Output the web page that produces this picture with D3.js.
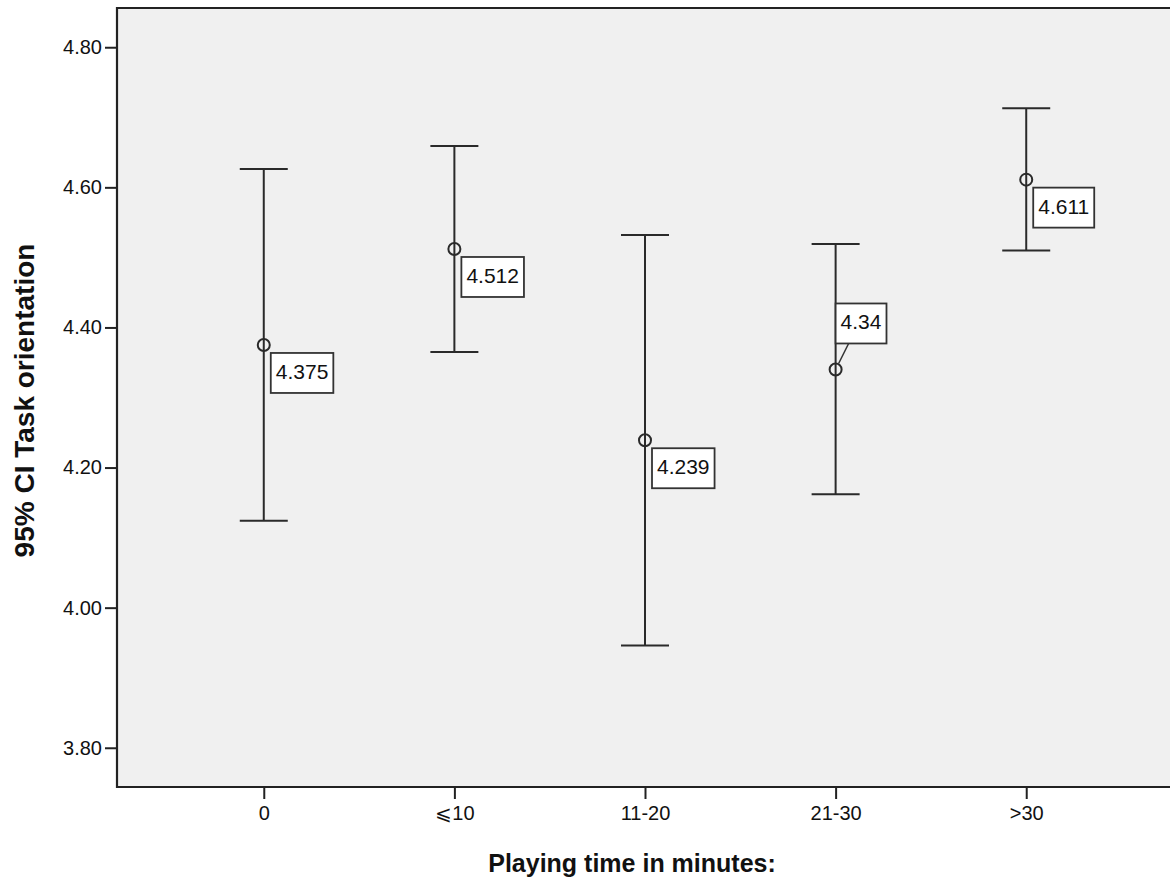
<!DOCTYPE html>
<html>
<head>
<meta charset="utf-8">
<script src="https://cdn.jsdelivr.net/npm/d3@7"></script>
<style>
  body { margin: 0; background: #fff; }
  svg { display: block; font-family: "Liberation Sans", Arial, sans-serif; }
</style>
</head>
<body>
<div id="container"></div>
<script>
const categories = ["0", "\u2A7D10", "11-20", "21-30", ">30"]
const means = [4.375, 4.512, 4.239, 4.34, 4.611]
const lower = [4.124, 4.365, 3.946, 4.162, 4.510]
const upper = [4.626, 4.659, 4.532, 4.519, 4.713]
const meanLabels = ["4.375", "4.512", "4.239", "4.34", "4.611"]
const yTicks = [3.8, 4.0, 4.2, 4.4, 4.6, 4.8]

const width = 1170
const height = 881
const plot = { left: 117, top: 8, right: 1173, bottom: 787 }

const svg = d3.select("#container").append("svg")
    .attr("width", width)
    .attr("height", height)

const x = d3.scalePoint()
    .domain(categories)
    .range([plot.left, plot.right])
    .padding(0.77)

const y = d3.scaleLinear()
    .domain([3.744, 4.856])
    .range([plot.bottom, plot.top])

// plot background
svg.append("rect")
    .attr("x", plot.left)
    .attr("y", plot.top)
    .attr("width", plot.right - plot.left)
    .attr("height", plot.bottom - plot.top)
    .attr("fill", "#f0f0f0")

const yAxis = svg.append("g")
    .attr("transform", `translate(${plot.left},0)`)
    .call(d3.axisLeft(y).tickValues(yTicks).tickFormat(d3.format(".2f")).tickSize(12).tickPadding(3))
const xAxis = svg.append("g")
    .attr("transform", `translate(0,${plot.bottom})`)
    .call(d3.axisBottom(x).tickSize(12).tickPadding(7))

for (const ax of [yAxis, xAxis]) {
    ax.select(".domain").remove()
    ax.selectAll(".tick line").attr("stroke", "#222").attr("stroke-width", 2)
    ax.selectAll(".tick text")
        .attr("fill", "#111")
        .style("font-size", "20px")
        .style("font-family", "'Liberation Sans', Arial, sans-serif")
}

// frame
svg.append("path")
    .attr("d", `M${plot.right},${plot.top}H${plot.left}V${plot.bottom}H${plot.right}`)
    .attr("fill", "none")
    .attr("stroke", "#222")
    .attr("stroke-width", 2.2)

const rows = categories.map((c, i) => ({ c, mean: means[i], lo: lower[i], hi: upper[i], label: meanLabels[i] }))
const capW = 24

const bars = svg.append("g")
    .selectAll("g")
    .data(rows)
    .join("g")

bars.append("line")
    .attr("x1", d => x(d.c)).attr("x2", d => x(d.c))
    .attr("y1", d => y(d.hi)).attr("y2", d => y(d.lo))
bars.append("line")
    .attr("x1", d => x(d.c) - capW).attr("x2", d => x(d.c) + capW)
    .attr("y1", d => y(d.hi)).attr("y2", d => y(d.hi))
bars.append("line")
    .attr("x1", d => x(d.c) - capW).attr("x2", d => x(d.c) + capW)
    .attr("y1", d => y(d.lo)).attr("y2", d => y(d.lo))
bars.selectAll("line")
    .attr("stroke", "#2a2a2a")
    .attr("stroke-width", 2)

bars.append("circle")
    .attr("cx", d => x(d.c))
    .attr("cy", d => y(d.mean))
    .attr("r", 6)
    .attr("fill", "none")
    .attr("stroke", "#2a2a2a")
    .attr("stroke-width", 2)

// mean labels; "21-30" sits above its point with a leader line
const labelAbove = ["21-30"]
bars.each(function (d) {
    const g = d3.select(this)
    const px = x(d.c), py = y(d.mean)
    const above = labelAbove.includes(d.c)
    const t = g.append("text")
        .text(d.label)
        .attr("fill", "#111")
        .style("font-size", "21px")
    const w = t.node().getComputedTextLength() + 10
    const h = 40
    const bx = above ? px : px + 7
    const by = above ? py - 26 - h : py + 8
    if (above) {
        g.insert("line", "text")
            .attr("x1", px + 3).attr("y1", py - 6)
            .attr("x2", px + 13).attr("y2", by + h)
            .attr("stroke", "#333").attr("stroke-width", 1.5)
    }
    g.insert("rect", "text")
        .attr("x", bx).attr("y", by)
        .attr("width", w).attr("height", h)
        .attr("fill", "#fff")
        .attr("stroke", "#333")
        .attr("stroke-width", 1.8)
    t.attr("x", bx + 5).attr("y", by + 26)
})

svg.append("text")
    .attr("x", 632)
    .attr("y", 872)
    .attr("text-anchor", "middle")
    .style("font-size", "25px")
    .style("font-weight", "bold")
    .attr("fill", "#111")
    .text("Playing time in minutes:")

svg.append("text")
    .attr("transform", `translate(34,${(plot.top + plot.bottom) / 2 + 3}) rotate(-90)`)
    .attr("text-anchor", "middle")
    .style("font-size", "28px")
    .style("font-weight", "bold")
    .attr("fill", "#111")
    .text("95% CI Task orientation")
</script>
</body>
</html>
